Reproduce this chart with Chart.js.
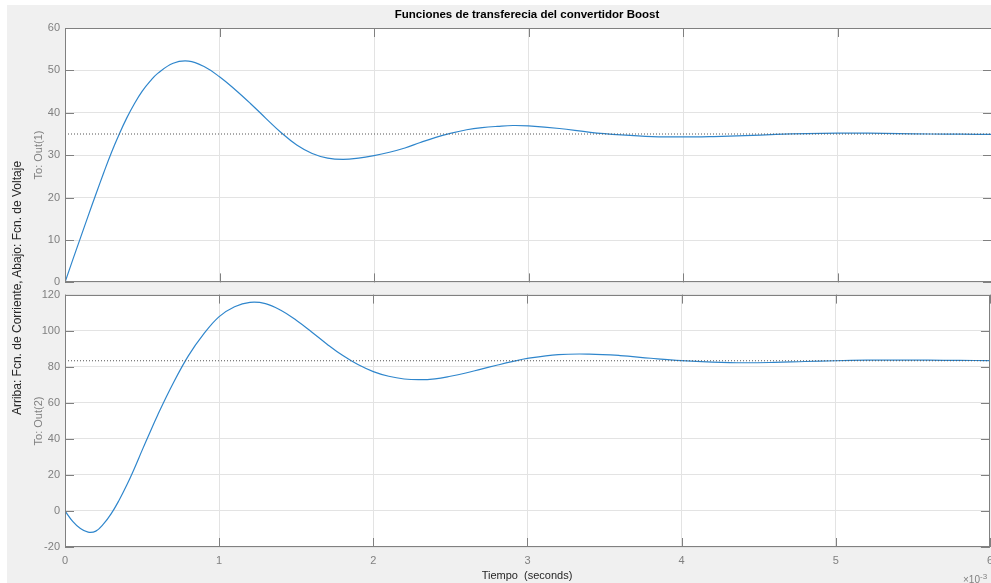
<!DOCTYPE html>
<html>
<head>
<meta charset="utf-8">
<script src="https://cdn.jsdelivr.net/npm/chart.js@4"></script>
<style>
  html, body { margin:0; padding:0; background:#fff; overflow:hidden; width:991px; height:583px; }
  #fig { position:absolute; left:7px; top:5px; width:984px; height:578px; background:#f0f0f0; }
  canvas { position:absolute; left:0; }
  .txt { position:absolute; font-family:"Liberation Sans", Arial, sans-serif; white-space:nowrap; transform:translate(-50%,-50%); }
  .rot { transform:translate(-50%,-50%) rotate(-90deg); }
</style>
</head>
<body>
<div id="fig"></div>
<canvas id="top" width="1000" height="294" style="top:0"></canvas>
<canvas id="bottom" width="1000" height="300" style="top:283px"></canvas>

<div class="txt" style="left:527px;top:14px;font-size:11.5px;font-weight:bold;color:#000">Funciones de transferecia del convertidor Boost</div>
<div class="txt" style="left:527px;top:575px;font-size:11px;color:#262626">Tiempo&nbsp; (seconds)</div>
<div class="txt rot" style="left:17px;top:288px;font-size:12px;color:#262626">Arriba: Fcn. de Corriente, Abajo: Fcn. de Voltaje</div>
<div class="txt rot" style="left:38px;top:155px;font-size:11px;color:#808080">To: Out(1)</div>
<div class="txt rot" style="left:38px;top:421px;font-size:11px;color:#808080">To: Out(2)</div>
<div class="txt" style="left:963px;top:571px;transform:none;font-size:10px;line-height:12px;color:#808080">&times;10<sup style="font-size:8px">-3</sup></div>

<script>
// time in ms (axis shows x10^-3 s)
const timeMs = [0,0.05,0.1,0.15,0.2,0.25,0.3,0.35,0.4,0.45,0.5,0.55,0.6,0.7,0.8,0.9,1.0,1.1,1.2,1.3,1.4,1.5,1.6,1.7,1.8,1.9,2.0,2.1,2.2,2.3,2.4,2.5,2.6,2.7,2.8,2.9,3.0,3.2,3.4,3.6,3.8,4.0,4.2,4.4,4.6,4.8,5.0,5.2,5.4,5.6,5.8,6.0];
const voltage = [0,5.3,10.5,15.7,20.8,25.8,30.6,34.9,38.8,42.2,45.1,47.4,49.3,51.7,52.2,50.9,48.5,45.5,42.2,38.7,35.3,32.4,30.4,29.3,29.0,29.3,29.9,30.7,31.7,33.0,34.2,35.2,36.0,36.5,36.8,37.0,36.9,36.3,35.4,34.8,34.4,34.3,34.4,34.6,34.9,35.1,35.2,35.2,35.1,35.0,34.95,34.9];
const current = [0,-5.8,-9.8,-11.8,-11.2,-7.2,-1.5,5.8,14.2,23.6,33.6,43.4,53,70.5,86,98.2,107.8,113.3,115.7,115,111.3,105.8,99.3,92.5,86.3,81.2,77.3,74.7,73.2,72.8,73.3,74.7,76.5,78.7,80.8,82.8,84.6,86.7,87.0,86.2,84.7,83.4,82.6,82.2,82.4,82.9,83.3,83.6,83.7,83.6,83.5,83.4];
const voltageFinal = 35;
const currentFinal = 83.3;
const xTicks = [0,1,2,3,4,5,6];
const voltageTicks = [0,10,20,30,40,50,60];
const currentTicks = [-20,0,20,40,60,80,100,120];

const lineColor = '#2f86cc';
const gridColor = '#e3e3e3';
const frameColor = '#808080';
const font = { family: '"Liberation Sans", Arial, sans-serif', size: 11 };

// white axes background, box and inward ticks like MATLAB
const frame = {
  id: 'frame',
  beforeDraw(chart){
    const a = chart.chartArea, c = chart.ctx;
    c.save(); c.fillStyle = '#fff'; c.fillRect(a.left, a.top, a.width, a.height); c.restore();
  },
  afterDraw(chart){
    const a = chart.chartArea, c = chart.ctx, x = chart.scales.x, y = chart.scales.y;
    c.save();
    c.strokeStyle = frameColor; c.lineWidth = 1;
    c.strokeRect(Math.round(a.left)+0.5, Math.round(a.top)+0.5, Math.round(a.width)-1, Math.round(a.height)-1);
    c.beginPath();
    x.ticks.forEach(t => {
      const px = Math.round(x.getPixelForValue(t.value)) + 0.5;
      c.moveTo(px, a.bottom); c.lineTo(px, a.bottom - 9);
      c.moveTo(px, a.top); c.lineTo(px, a.top + 9);
    });
    y.ticks.forEach(t => {
      const py = Math.round(y.getPixelForValue(t.value)) + 0.5;
      c.moveTo(a.left, py); c.lineTo(a.left + 9, py);
      c.moveTo(a.right, py); c.lineTo(a.right - 9, py);
    });
    c.stroke();
    c.restore();
  }
};

function pts(ys){ return timeMs.map((t, i) => ({ x: t, y: ys[i] })); }

function makeChart(id, ys, finalVal, yTicks, showX, pad, xHeight){
  return new Chart(document.getElementById(id), {
    type: 'line',
    data: {
      datasets: [
        { data: [{x: 0, y: finalVal}, {x: 6, y: finalVal}], borderColor: '#555', borderWidth: 1, borderDash: [1, 2], pointRadius: 0 },
        { data: pts(ys), borderColor: lineColor, borderWidth: 1.2, pointRadius: 0, tension: 0.4 }
      ]
    },
    options: {
      responsive: false,
      animation: false,
      layout: { padding: pad },
      plugins: { legend: { display: false }, tooltip: { enabled: false } },
      scales: {
        x: {
          type: 'linear', min: xTicks[0], max: xTicks[xTicks.length - 1],
          afterBuildTicks: s => { s.ticks = xTicks.map(v => ({ value: v })); },
          ticks: { display: showX, color: frameColor, font, padding: 7, maxRotation: 0, autoSkip: false },
          grid: { color: gridColor, drawTicks: false },
          border: { display: false },
          afterFit: s => { s.height = xHeight; }
        },
        y: {
          min: yTicks[0], max: yTicks[yTicks.length - 1],
          afterBuildTicks: s => { s.ticks = yTicks.map(v => ({ value: v })); },
          ticks: { color: frameColor, font, padding: 5 },
          grid: { color: gridColor, drawTicks: false },
          border: { display: false },
          afterFit: s => { s.width = 65; }
        }
      }
    },
    plugins: [frame]
  });
}

makeChart('top', voltage, voltageFinal, voltageTicks, false, { top: 28, right: 8, bottom: 5, left: 0 }, 0);
makeChart('bottom', current, currentFinal, currentTicks, true, { top: 8, right: 8, bottom: 0, left: 0 }, 36);
</script>
</body>
</html>
